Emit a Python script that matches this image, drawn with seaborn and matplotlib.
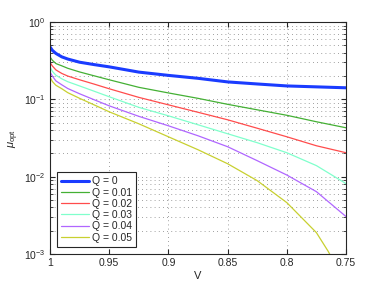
import matplotlib
matplotlib.use("Agg")
import matplotlib.pyplot as plt
import seaborn as sns
import pandas as pd

# V grid (x axis runs from 1 down to 0.75)
V = [1.0, 0.998, 0.995, 0.99, 0.985, 0.975, 0.9625, 0.95, 0.925, 0.9, 0.875, 0.85, 0.825, 0.8, 0.775, 0.75]

mu_q0 = [0.476, 0.43, 0.392, 0.354, 0.332, 0.302, 0.281, 0.263, 0.225, 0.204, 0.187, 0.168, 0.158, 0.149, 0.145, 0.141]
mu_q001 = [0.354, 0.32, 0.29, 0.271, 0.252, 0.226, 0.201, 0.179, 0.143, 0.121, 0.103, 0.0862, 0.0732, 0.0622, 0.0513, 0.0429]
mu_q002 = [0.300, 0.27, 0.24, 0.216, 0.200, 0.179, 0.157, 0.137, 0.106, 0.0849, 0.0680, 0.0544, 0.0423, 0.0328, 0.0251, 0.0204]
mu_q003 = [0.263, 0.23, 0.205, 0.184, 0.169, 0.149, 0.127, 0.108, 0.0788, 0.0612, 0.0469, 0.0359, 0.0275, 0.0204, 0.0139, 0.00813]
mu_q004 = [0.226, 0.20, 0.173, 0.154, 0.138, 0.118, 0.0985, 0.0824, 0.0603, 0.0455, 0.0338, 0.0244, 0.0161, 0.0105, 0.0064, 0.00305]
V_q005 = [1.0, 0.998, 0.995, 0.99, 0.985, 0.975, 0.9625, 0.95, 0.925, 0.9, 0.875, 0.85, 0.825, 0.8, 0.775, 0.765, 0.761]
mu_q005 = [0.195, 0.17, 0.152, 0.137, 0.122, 0.103, 0.0845, 0.069, 0.0483, 0.0328, 0.0223, 0.0147, 0.00888, 0.00462, 0.00189, 0.00108, 0.00083]

labels = ["Q = 0", "Q = 0.01", "Q = 0.02", "Q = 0.03", "Q = 0.04", "Q = 0.05"]
colors = ["#1a3cff", "#44b034", "#ff4c4c", "#80ffcc", "#b066ff", "#c8d030"]
widths = [2.2, 0.9, 0.9, 0.9, 0.9, 0.9]

series = [(V, mu_q0), (V, mu_q001), (V, mu_q002), (V, mu_q003), (V, mu_q004), (V_q005, mu_q005)]

sns.set_style("ticks")
plt.rcParams['font.family'] = ['Liberation Sans', 'DejaVu Sans']
plt.rcParams['mathtext.fontset'] = 'custom'
plt.rcParams['mathtext.rm'] = 'Liberation Sans'
plt.rcParams['mathtext.it'] = 'Liberation Sans:italic'

fig = plt.figure(figsize=(3.82, 2.87), dpi=100)
ax = fig.add_axes([50 / 382, 33 / 287, 296 / 382, 232 / 287])

for (vx, vy), lab, c, w in zip(series, labels, colors, widths):
    df = pd.DataFrame({"V": vx, "mu": vy})
    sns.lineplot(data=df, x="V", y="mu", ax=ax, color=c, linewidth=w, label=lab,
                 sort=False, estimator=None)

ax.set_yscale("log")
ax.set_ylim(1e-3, 1)
ax.set_xlim(1, 0.75)
ax.set_xticks([1, 0.95, 0.9, 0.85, 0.8, 0.75])
ax.set_xticklabels(["1", "0.95", "0.9", "0.85", "0.8", "0.75"])

grid_kw = dict(linestyle=(0, (1, 4)), color="0.5", linewidth=0.6)
ax.xaxis.grid(True, which="major", **grid_kw)
ax.yaxis.grid(True, which="both", **grid_kw)
ax.set_axisbelow(True)

ax.tick_params(which="both", direction="in", top=True, right=True, labelsize=7.5, pad=3,
               colors="0.15")
ax.tick_params(which="major", length=3.5)
ax.tick_params(which="minor", length=2)
for s in ax.spines.values():
    s.set_linewidth(0.8)
    s.set_color("0.15")

ax.set_xlabel("V", fontsize=8, labelpad=2)
ax.set_ylabel(r"$\mu_{\rm opt}$", fontsize=8, labelpad=2)

leg = ax.legend(loc="lower left", fontsize=7.5, frameon=True, fancybox=False,
                edgecolor="0.15", framealpha=1, handlelength=2.6, handletextpad=0.35,
                borderpad=0.4, labelspacing=0.12, borderaxespad=0.7)
leg.get_frame().set_linewidth(0.8)

fig.savefig("out.png", dpi=100)
